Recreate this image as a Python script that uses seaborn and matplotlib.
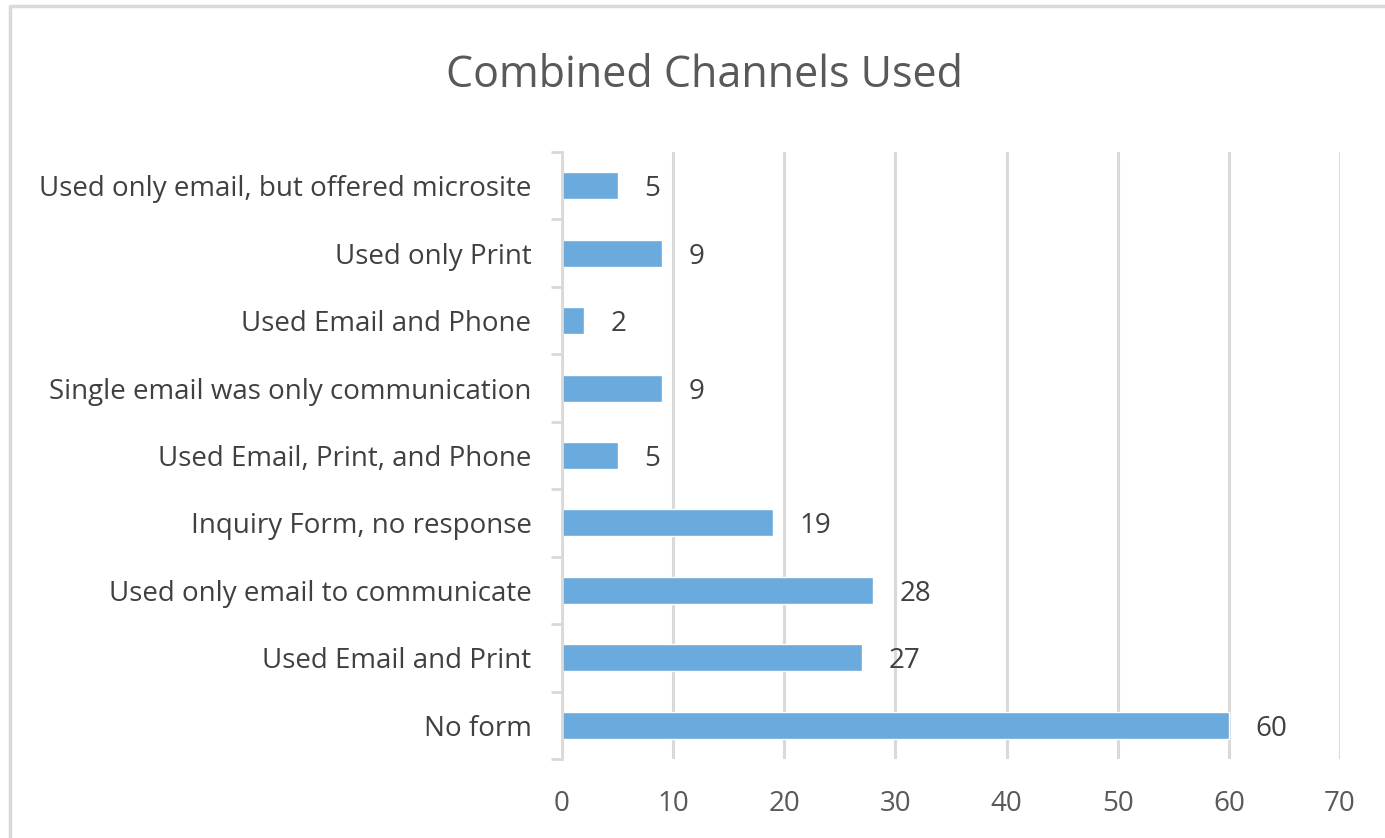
import matplotlib
matplotlib.use("Agg")
import matplotlib.pyplot as plt
from matplotlib.lines import Line2D
import seaborn as sns
import pandas as pd

# Channel combinations, listed top to bottom
categories = [
    "Used only email, but offered microsite",
    "Used only Print",
    "Used Email and Phone",
    "Single email was only communication",
    "Used Email, Print, and Phone",
    "Inquiry Form, no response",
    "Used only email to communicate",
    "Used Email and Print",
    "No form",
]
counts = [5, 9, 2, 9, 5, 19, 28, 27, 60]
x_ticks = [0, 10, 20, 30, 40, 50, 60, 70]

df = pd.DataFrame({"channel": categories, "count": counts})

sns.set_theme(style="white")
plt.rcParams["font.family"] = ["Open Sans", "DejaVu Sans"]

BAR = "#6aaadc"
GRID = "#d9d9d9"
LABEL = "#404040"
TICK = "#595959"

fig = plt.figure(figsize=(13.85, 8.38), dpi=100)
ax = fig.add_axes([562 / 1385, 1 - 759 / 838, (1340 - 562) / 1385, (759 - 152) / 838])

sns.barplot(data=df, x="count", y="channel", orient="h", color=BAR,
            width=0.4, saturation=1, edgecolor="white", linewidth=1,
            ax=ax, zorder=3)

ax.set_xlim(0, 70)
ax.set_ylim(len(categories) - 0.5, -0.5)
ax.set_xticks(x_ticks)
ax.set_xticklabels([str(t) for t in x_ticks])
ax.set_xlabel("")
ax.set_ylabel("")

ax.grid(axis="x", color=GRID, linewidth=2.2, zorder=0)
ax.grid(axis="y", visible=False)
ax.set_axisbelow(True)

for side in ["top", "right", "bottom"]:
    ax.spines[side].set_visible(False)
ax.spines["left"].set_color(GRID)
ax.spines["left"].set_linewidth(2)
ax.spines["left"].set_zorder(4)

ax.set_yticks([i - 0.5 for i in range(len(categories) + 1)], minor=True)
ax.tick_params(axis="y", which="minor", length=8, width=2, color=GRID, left=True)
ax.tick_params(axis="y", which="major", length=0, pad=22, labelsize=20, labelcolor=LABEL)
ax.tick_params(axis="x", which="both", length=0, pad=22, labelsize=20, labelcolor=TICK)

for i, v in enumerate(counts):
    ax.annotate(str(v), xy=(v, i), xytext=(19, 0), textcoords="offset points",
                ha="left", va="center_baseline", fontsize=20, color=LABEL, zorder=5)

fig.text(704 / 1385, 1 - 76 / 838, "Combined Channels Used", ha="center", va="center",
         fontsize=31, color=TICK)

# Chart frame: left and top edges
fig.add_artist(Line2D([10 / 1385, 10 / 1385, 1.0], [0.0, 1 - 6 / 838, 1 - 6 / 838],
                      transform=fig.transFigure, color=GRID, linewidth=2.5))

fig.savefig("out.png", dpi=100, facecolor="white")
